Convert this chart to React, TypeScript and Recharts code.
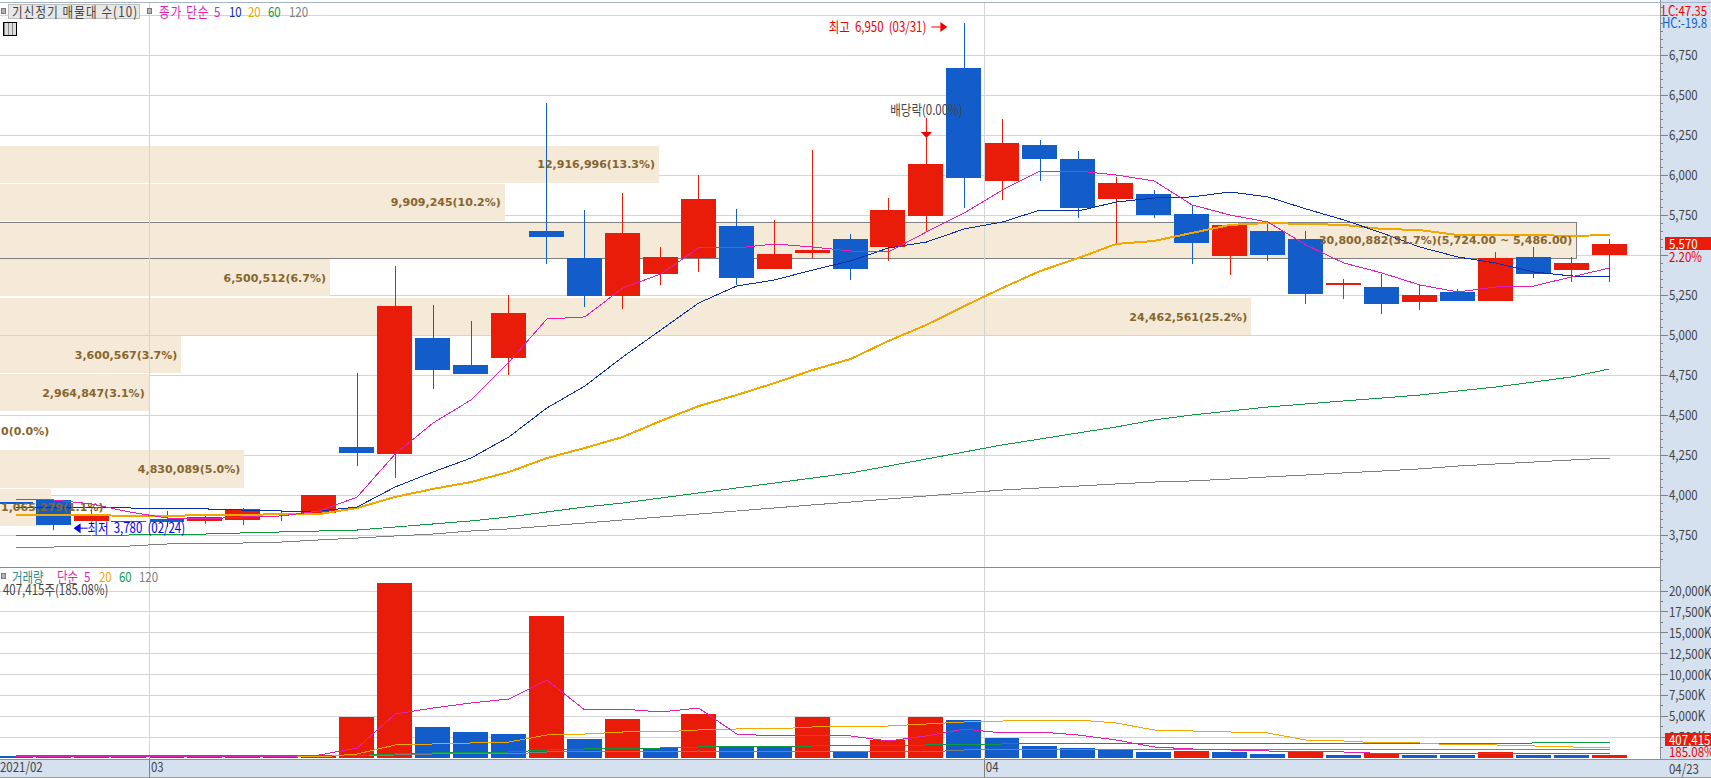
import {
  Bar,
  CartesianGrid,
  Cell,
  ComposedChart,
  Line,
  ReferenceArea,
  ReferenceDot,
  ReferenceLine,
  XAxis,
  YAxis,
} from 'recharts';

// 거래일 (2021/02/23 ~ 04/23)
const dates = [
  '02/23', '02/24', '02/25', '02/26',
  '03/02', '03/03', '03/04', '03/05', '03/08', '03/09', '03/10', '03/11', '03/12', '03/15', '03/16',
  '03/17', '03/18', '03/19', '03/22', '03/23', '03/24', '03/25', '03/26', '03/29', '03/30', '03/31',
  '04/01', '04/02', '04/05', '04/06', '04/07', '04/08', '04/09', '04/12', '04/13', '04/14', '04/15',
  '04/16', '04/19', '04/20', '04/21', '04/22', '04/23',
];
const opens = [
  3955, 3969, 3838, 3838, 3850, 3838, 3844, 3875, 3888, 4300, 4256, 4981, 4813, 4856, 5650, 5481, 5244,
  5381, 5481, 5681, 5413, 5513, 5600, 5550, 5744, 6669, 5963, 6188, 6100, 5850, 5881, 5756, 5494, 5650,
  5600, 5315, 5300, 5206, 5269, 5213, 5488, 5406, 5500,
];
const closes = [
  3945, 3813, 3881, 3831, 3831, 3863, 3913, 3888, 4000, 4263, 5181, 4781, 4756, 5138, 5613, 5244, 5638,
  5488, 5850, 5356, 5506, 5531, 5413, 5781, 6069, 5981, 6200, 6100, 5794, 5950, 5750, 5575, 5688, 5500,
  5256, 5322, 5194, 5250, 5213, 5481, 5381, 5450, 5570,
];
const highs = [
  3955, 3975, 3906, 3838, 3900, 3875, 3919, 3906, 4000, 4763, 5431, 5188, 5088, 5250, 6450, 5781, 5888,
  5550, 6000, 5788, 5719, 6156, 5631, 5856, 6231, 6950, 6350, 6219, 6150, 5988, 5906, 5806, 5688, 5700,
  5650, 5350, 5381, 5319, 5288, 5519, 5550, 5488, 5600,
];
const lows = [
  3945, 3780, 3838, 3825, 3800, 3819, 3813, 3838, 3888, 4181, 4106, 4663, 4756, 4750, 5444, 5175, 5163,
  5313, 5394, 5313, 5413, 5481, 5344, 5463, 5644, 5794, 5844, 5963, 5731, 5569, 5731, 5444, 5375, 5463,
  5194, 5225, 5131, 5156, 5213, 5213, 5356, 5331, 5331,
];
const ma5 = [
  3975, 3969, 3944, 3894, 3856, 3850, 3863, 3869, 3900, 3987, 4256, 4450, 4594, 4831, 5100, 5113, 5294,
  5381, 5544, 5544, 5569, 5550, 5525, 5519, 5644, 5763, 5906, 6025, 6025, 6000, 5963, 5813, 5750, 5706,
  5563, 5450, 5388, 5313, 5269, 5300, 5306, 5363, 5419,
];
const ma10 = [
  3919, 3919, 3919, 3919, 3913, 3913, 3906, 3900, 3900, 3925, 4050, 4144, 4231, 4363, 4544, 4681, 4863,
  5031, 5200, 5306, 5344, 5406, 5463, 5544, 5581, 5663, 5706, 5781, 5775, 5831, 5856, 5863, 5894, 5863,
  5788, 5719, 5638, 5550, 5488, 5450, 5394, 5369, 5363,
];
const ma20 = [
  3875, 3875, 3875, 3869, 3869, 3875, 3875, 3881, 3881, 3919, 3988, 4038, 4081, 4144, 4231, 4294, 4363,
  4463, 4556, 4625, 4700, 4781, 4850, 4963, 5063, 5181, 5294, 5400, 5481, 5569, 5588, 5638, 5688, 5700,
  5694, 5688, 5663, 5656, 5625, 5625, 5625, 5619, 5625,
];
const ma60 = [
  3744, 3744, 3750, 3750, 3756, 3756, 3763, 3769, 3775, 3781, 3800, 3819, 3838, 3863, 3894, 3925, 3950,
  3981, 4013, 4044, 4075, 4106, 4138, 4181, 4225, 4269, 4313, 4350, 4388, 4425, 4469, 4500, 4525, 4550,
  4569, 4588, 4606, 4625, 4650, 4675, 4706, 4738, 4788,
];
const ma120 = [
  3675, 3675, 3678, 3681, 3694, 3700, 3700, 3706, 3719, 3731, 3744, 3756, 3775, 3788, 3806, 3825, 3844,
  3863, 3881, 3900, 3919, 3938, 3956, 3975, 3994, 4013, 4031, 4044, 4056, 4069, 4081, 4088, 4100, 4113,
  4125, 4138, 4150, 4163, 4181, 4194, 4206, 4219, 4231,
];

// 거래량 (K)
const volumes = [
  240, 170, 180, 190, 170, 150, 190, 130, 190, 4910, 20960, 3710, 3110, 2875, 17010, 2275, 4670, 1200,
  5270, 1440, 1320, 4910, 755, 2155, 4910, 4550, 2395, 1440, 1200, 1080, 720, 875, 720, 480, 840, 360,
  575, 360, 360, 720, 360, 370, 407,
];
const volumeUp = [
  0, 1, 0, 1, 0, 1, 1, 0, 1, 1, 1, 0, 0, 0, 1, 0, 1, 0, 1, 0, 0, 1, 0, 1, 1, 0, 0, 0, 0, 0, 0, 1, 0, 0, 1,
  0, 1, 0, 0, 1, 0, 0, 1,
];
const volMa5 = [
  150, 150, 150, 150, 150, 150, 150, 150, 360, 1200, 5270, 5990, 6590, 7070, 9340, 5750, 5870, 5510, 5990,
  2875, 2640, 2755, 2640, 2035, 2640, 3470, 2995, 3115, 2755, 2155, 1320, 1080, 960, 840, 720, 720, 540,
  480, 480, 480, 480, 480, 480,
];
const volMa20 = [
  120, 120, 120, 120, 120, 120, 120, 120, 120, 480, 1560, 1680, 1800, 1915, 2755, 2875, 3115, 3115, 3355,
  3475, 3475, 3715, 3715, 3835, 4075, 4315, 4430, 4550, 4550, 4195, 3355, 3235, 3115, 2995, 2155, 2035,
  1800, 1800, 1560, 1560, 1440, 1320, 1200,
];
const volMa60 = [
  300, 300, 300, 300, 300, 300, 300, 300, 300, 300, 480, 600, 600, 720, 960, 1080, 1080, 1200, 1320, 1320,
  1320, 1440, 1440, 1440, 1560, 1560, 1680, 1680, 1680, 1680, 1680, 1680, 1680, 1680, 1680, 1680, 1680,
  1680, 1680, 1680, 1800, 1800, 1800,
];
const volMa120 = [
  280, 280, 280, 280, 280, 280, 280, 280, 280, 280, 360, 480, 480, 480, 720, 720, 720, 720, 840, 720, 720,
  720, 720, 720, 720, 960, 960, 960, 960, 960, 960, 960, 960, 960, 960, 960, 960, 960, 960, 960, 960, 960,
  960,
];

// 매물대
const profileVolumes = [
  12916996, 9909245, 30800882, 6500512, 24462561, 3600567, 2964847, 0, 4830089, 1065279,
];
const profileTops = [6181, 5945, 5704, 5472, 5231, 4992, 4756, 4519, 4281, 4038];
const profileBottoms = [5952, 5714, 5479, 5241, 4999, 4763, 4525, 4287, 4044, 3808];
const profileLabels = [
  '12,916,996(13.3%)',
  '9,909,245(10.2%)',
  '30,800,882(31.7%)(5,724.00 ~ 5,486.00)',
  '6,500,512(6.7%)',
  '24,462,561(25.2%)',
  '3,600,567(3.7%)',
  '2,964,847(3.1%)',
  '0(0.0%)',
  '4,830,089(5.0%)',
  '1,065,279(1.1%)',
];
// 매물대 가로 길이: x축 범위 전체에 해당하는 거래량
const profileFullScale = 31820000;

const priceTicks = [3750, 4000, 4250, 4500, 4750, 5000, 5250, 5500, 5750, 6000, 6250, 6500, 6750];
const priceGridTicks = [...priceTicks, 7000];
const volumeTicks = [2500, 5000, 7500, 10000, 12500, 15000, 17500, 20000];
const monthTicks = ['02/23', '03/02', '04/01'];
const monthLabels = ['2021/02', '03', '04'];
// 현재가 표시에 가려지는 눈금 글자
const coveredPriceLabels = [5500];

const priceMinorTicks: number[] = [];
for (let v = 3600; v <= 7050; v += 50) priceMinorTicks.push(v);
const volumeMinorTicks: number[] = [];
for (let v = 1250; v <= 21250; v += 1250) volumeMinorTicks.push(v);

const priceRows = dates.map((date, i) => ({
  date,
  open: opens[i],
  close: closes[i],
  high: highs[i],
  low: lows[i],
  ma5: ma5[i],
  ma10: ma10[i],
  ma20: ma20[i],
  ma60: ma60[i],
  ma120: ma120[i],
}));

const volumeRows = dates.map((date, i) => ({
  date,
  volume: volumes[i],
  ma5: volMa5[i],
  ma20: volMa20[i],
  ma60: volMa60[i],
  ma120: volMa120[i],
}));

const RED = '#e91c0a';
const BLUE = '#135dcb';
const PINK = '#e01fb4';
const NAVY = '#0a2ea6';
const ORANGE = '#f0a800';
const GREEN = '#0f9a42';
const GRAY = '#808080';
const GRID = '#d4d4d4';
const AXIS_BG = '#d6e1f0';
const BAND = '#f5e9d8';
const BAND_TEXT = '#86662f';
const TEXT = '#444444';
const FONT = '"Noto Sans CJK KR", sans-serif';
const BAND_FONT = '"DejaVu Sans", sans-serif';
const TEXT_SIZE = 14;
const SQUEEZE = 0.82; // 원본 비트맵 글꼴이 좁아서 가로만 줄임

const WIDTH = 1711;
const PLOT_RIGHT = 1660;
// 봉 간격 37.95px, 첫 봉 중심 15.6px
const axisPadding = { left: -3.375, right: 31.5 };
const priceDomain = [3550, 7075];
const priceMargin = { top: 3, right: 0, bottom: 1, left: 0 };

function NarrowText(props: any) {
  const { x, y, anchor, fill, wordSpacing, children } = props;
  return (
    <text
      transform={`translate(${x} ${y}) scale(${SQUEEZE} 1)`}
      textAnchor={anchor ?? 'start'}
      fontSize={TEXT_SIZE}
      fontFamily={FONT}
      fill={fill}
      style={{ wordSpacing }}
    >
      {children}
    </text>
  );
}

function Candle(props: any) {
  const { x, y, width, height, payload } = props;
  const perUnit = height / (payload.high - payload.low);
  const top = y + (payload.high - Math.max(payload.open, payload.close)) * perUnit;
  const bodyH = Math.max(1, Math.abs(payload.open - payload.close) * perUnit);
  const color = payload.close >= payload.open ? RED : BLUE;
  const cx = Math.round(x + width / 2) + 0.5;
  return (
    <g shapeRendering="crispEdges">
      <line x1={cx} x2={cx} y1={y} y2={y + height} stroke={color} strokeWidth={1} />
      <rect x={x} y={top} width={width} height={bodyH} fill={color} />
    </g>
  );
}

function AxisTick(props: any) {
  const { x, y, payload, majors, suffix, covered } = props;
  const major = majors.includes(payload.value);
  const showText = major && !(covered ?? []).includes(payload.value);
  return (
    <g>
      <line x1={x} x2={x + (major ? 8 : 3)} y1={y} y2={y} stroke={GRAY} shapeRendering="crispEdges" />
      {showText && (
        <NarrowText x={x + 9} y={y + 5} fill={TEXT}>
          {payload.value.toLocaleString('en-US') + suffix}
        </NarrowText>
      )}
    </g>
  );
}

function MonthTick(props: any) {
  const { x, y, payload, index } = props;
  const left = x - 17.97;
  return (
    <g>
      {index > 0 && <line x1={left} x2={left} y1={y} y2={y + 19} stroke={GRAY} shapeRendering="crispEdges" />}
      <NarrowText x={Math.max(0, left + 1.5)} y={y + 14} fill={TEXT}>
        {monthLabels[monthTicks.indexOf(payload.value)]}
      </NarrowText>
    </g>
  );
}

// 월 구분선은 봉 사이 간격 가운데에 놓임
function MonthLine(props: any) {
  const { x1, x2, y1, y2 } = props;
  return <line x1={x1 + 1} x2={x2 + 1} y1={y1} y2={y2} stroke={GRID} shapeRendering="crispEdges" />;
}

function bandWidth(fullWidth: number, volume: number) {
  return (fullWidth * volume) / profileFullScale;
}

function ProfileBand(props: any) {
  const { x, y, width, height, volume, boxed } = props;
  if (volume <= 0) return null;
  return (
    <rect
      x={x}
      y={y}
      width={bandWidth(width, volume)}
      height={height}
      fill={BAND}
      stroke={boxed ? GRAY : 'none'}
      shapeRendering="crispEdges"
    />
  );
}

function ProfileText(props: any) {
  const { x, y, width, height, volume, label } = props;
  const bandPx = bandWidth(width, volume);
  // 막대보다 글자가 길면 왼쪽 끝에서 시작
  const fits = bandPx > label.length * 6.8;
  return (
    <text
      x={fits ? x + bandPx - 4 : 1}
      y={y + height / 2 + 4}
      textAnchor={fits ? 'end' : 'start'}
      fontSize={11}
      fontWeight="bold"
      fontFamily={BAND_FONT}
      fill={BAND_TEXT}
    >
      {label}
    </text>
  );
}

function HighMark(props: any) {
  const { cx, cy } = props;
  const ay = cy + 4;
  return (
    <g>
      <NarrowText x={cx - 38} y={ay + 5} anchor="end" fill="#f00000" wordSpacing={3}>
        최고 6,950 (03/31)
      </NarrowText>
      <line x1={cx - 33} x2={cx - 20} y1={ay} y2={ay} stroke="#f00000" />
      <path d={`M${cx - 24} ${ay - 5}L${cx - 17} ${ay}L${cx - 24} ${ay + 5}Z`} fill="#f00000" />
    </g>
  );
}

function LowMark(props: any) {
  const { cx, cy } = props;
  const ay = cy - 2;
  return (
    <g>
      <path d={`M${cx + 20} ${ay}L${cx + 27} ${ay - 5}L${cx + 27} ${ay + 5}Z`} fill="#0000f0" />
      <line x1={cx + 25} x2={cx + 34} y1={ay} y2={ay} stroke="#0000f0" />
      <NarrowText x={cx + 34} y={ay + 5} fill="#0000f0" wordSpacing={3}>
        최저 3,780 (02/24)
      </NarrowText>
    </g>
  );
}

function ExDividendMark(props: any) {
  const { cx, cy } = props;
  return (
    <g>
      <NarrowText x={cx} y={cy - 23} anchor="middle" fill={TEXT}>
        배당락(0.00%)
      </NarrowText>
      <line x1={cx} x2={cx} y1={cy - 20} y2={cy - 6} stroke="#f00000" />
      <path d={`M${cx - 5.5} ${cy - 6}L${cx + 5.5} ${cy - 6}L${cx} ${cy}Z`} fill="#f00000" />
    </g>
  );
}

function PriceChart() {
  return (
    <ComposedChart
      width={WIDTH}
      height={568}
      data={priceRows}
      margin={priceMargin}
      barCategoryGap={0}
      style={{ position: 'absolute', left: 0, top: 0 }}
    >
      <CartesianGrid vertical={false} stroke={GRID} horizontalValues={priceGridTicks} shapeRendering="crispEdges" />
      <XAxis dataKey="date" hide padding={axisPadding} />
      <YAxis
        orientation="right"
        width={51}
        domain={priceDomain}
        ticks={priceMinorTicks}
        interval={0}
        axisLine={false}
        tickLine={false}
        tickSize={0}
        tickMargin={0}
        allowDataOverflow
        tick={<AxisTick majors={priceTicks} suffix="" covered={coveredPriceLabels} />}
      />
      <ReferenceLine x="03/02" position="start" shape={<MonthLine />} />
      <ReferenceLine x="04/01" position="start" shape={<MonthLine />} />
      {profileVolumes.map((v, i) => (
        <ReferenceArea
          key={profileLabels[i]}
          y1={profileBottoms[i]}
          y2={profileTops[i]}
          ifOverflow="visible"
          shape={<ProfileBand volume={v} boxed={i === 2} />}
        />
      ))}
      <Line dataKey="ma120" stroke={GRAY} strokeWidth={1} dot={false} isAnimationActive={false} shapeRendering="crispEdges" />
      <Line dataKey="ma60" stroke={GREEN} strokeWidth={1} dot={false} isAnimationActive={false} shapeRendering="crispEdges" />
      <Line dataKey="ma20" stroke={ORANGE} strokeWidth={2} dot={false} isAnimationActive={false} shapeRendering="crispEdges" />
      <Line dataKey="ma10" stroke={NAVY} strokeWidth={1} dot={false} isAnimationActive={false} shapeRendering="crispEdges" />
      <Line dataKey="ma5" stroke={PINK} strokeWidth={1} dot={false} isAnimationActive={false} shapeRendering="crispEdges" />
      <Bar
        dataKey={(d: any) => [d.low, d.high]}
        barSize={35}
        shape={<Candle />}
        isAnimationActive={false}
      />
    </ComposedChart>
  );
}

// 글자는 봉과 선 위에 올라가므로 같은 축으로 한 겹 더 그림
function PriceTextLayer() {
  return (
    <ComposedChart
      width={WIDTH}
      height={568}
      data={priceRows}
      margin={priceMargin}
      style={{ position: 'absolute', left: 0, top: 0 }}
    >
      <XAxis dataKey="date" hide padding={axisPadding} scale="band" />
      <YAxis
        orientation="right"
        width={51}
        domain={priceDomain}
        axisLine={false}
        tickLine={false}
        tick={false}
        allowDataOverflow
      />
      {profileVolumes.map((v, i) => (
        <ReferenceArea
          key={profileLabels[i]}
          y1={profileBottoms[i]}
          y2={profileTops[i]}
          ifOverflow="visible"
          shape={<ProfileText volume={v} label={profileLabels[i]} />}
        />
      ))}
      <ReferenceDot x="03/31" y={6950} ifOverflow="visible" shape={<HighMark />} />
      <ReferenceDot x="02/24" y={3780} ifOverflow="visible" shape={<LowMark />} />
      <ReferenceDot x="03/30" y={6231} ifOverflow="visible" shape={<ExDividendMark />} />
    </ComposedChart>
  );
}

function VolumeChart() {
  return (
    <ComposedChart
      width={WIDTH}
      height={210}
      data={volumeRows}
      margin={{ top: 0, right: 0, bottom: 0, left: 0 }}
      barCategoryGap={0}
      style={{ position: 'absolute', left: 0, top: 568 }}
    >
      <CartesianGrid vertical={false} stroke={GRID} horizontalValues={volumeTicks} shapeRendering="crispEdges" />
      <XAxis
        dataKey="date"
        height={20}
        padding={axisPadding}
        ticks={monthTicks}
        interval={0}
        axisLine={false}
        tickLine={false}
        tickSize={0}
        tickMargin={0}
        tick={<MonthTick />}
      />
      <YAxis
        orientation="right"
        width={51}
        domain={[0, 22762]}
        ticks={volumeMinorTicks}
        interval={0}
        axisLine={false}
        tickLine={false}
        tickSize={0}
        tickMargin={0}
        allowDataOverflow
        tick={<AxisTick majors={volumeTicks} suffix="K" />}
      />
      <ReferenceLine x="03/02" position="start" shape={<MonthLine />} />
      <ReferenceLine x="04/01" position="start" shape={<MonthLine />} />
      <Bar dataKey="volume" barSize={35} isAnimationActive={false} shapeRendering="crispEdges">
        {volumeRows.map((row, i) => (
          <Cell key={row.date} fill={volumeUp[i] ? RED : BLUE} />
        ))}
      </Bar>
      <Line dataKey="ma120" stroke={GRAY} strokeWidth={1} dot={false} isAnimationActive={false} shapeRendering="crispEdges" />
      <Line dataKey="ma60" stroke={GREEN} strokeWidth={1} dot={false} isAnimationActive={false} shapeRendering="crispEdges" />
      <Line dataKey="ma20" stroke={ORANGE} strokeWidth={1} dot={false} isAnimationActive={false} shapeRendering="crispEdges" />
      <Line dataKey="ma5" stroke={PINK} strokeWidth={1} dot={false} isAnimationActive={false} shapeRendering="crispEdges" />
    </ComposedChart>
  );
}

function Box(props: any) {
  const { x, y, w, h, bg, style } = props;
  return <div style={{ position: 'absolute', left: x, top: y, width: w, height: h, background: bg, ...style }} />;
}

function Label(props: any) {
  const { x, y, color, spacing, children } = props;
  return (
    <div
      style={{
        position: 'absolute',
        left: x,
        top: y,
        color,
        fontFamily: FONT,
        fontSize: TEXT_SIZE,
        lineHeight: '14px',
        whiteSpace: 'nowrap',
        letterSpacing: spacing,
        transform: `scaleX(${SQUEEZE})`,
        transformOrigin: 'left top',
      }}
    >
      {children}
    </div>
  );
}

const miniSquare = { border: '1px solid #777', boxSizing: 'border-box' as const };

function Overlay() {
  return (
    <>
      <Box x={0} y={2} w={WIDTH} h={1} bg="#a3b3ca" />
      <Box x={0} y={567} w={PLOT_RIGHT} h={1} bg="#8a8a8a" />
      <Box x={0} y={759} w={WIDTH} h={1} bg="#8f8f8f" />
      <Box x={0} y={777} w={WIDTH} h={1} bg="#9a9a9a" />

      <Box x={1} y={8} w={5} h={6} bg="#b5b5b5" style={miniSquare} />
      <Box x={8} y={4} w={132} h={15} bg="#e8e8e8" style={{ border: '1px solid #bdbdbd', boxSizing: 'border-box' }} />
      <Label x={12} y={4} color={TEXT} spacing={1.4}>기신정기 매물대 수(10)</Label>
      <Box x={147} y={8} w={5} h={6} bg="#b5b5b5" style={miniSquare} />
      <Label x={159} y={4} color={PINK} spacing={1.4}>종가 단순</Label>
      <Label x={214} y={4} color={PINK}>5</Label>
      <Label x={229} y={4} color={NAVY}>10</Label>
      <Label x={248} y={4} color={ORANGE}>20</Label>
      <Label x={268} y={4} color={GREEN}>60</Label>
      <Label x={289} y={4} color={GRAY}>120</Label>
      <Box
        x={3}
        y={22}
        w={14}
        h={14}
        style={{
          boxSizing: 'border-box',
          border: '1px solid #000',
          background: 'repeating-linear-gradient(90deg,#888 0 1px,#ddd 1px 4px)',
        }}
      />

      <Box x={1} y={573} w={5} h={6} bg="#b5b5b5" style={miniSquare} />
      <Label x={12} y={569} color="#2e8b8b">거래량</Label>
      <Label x={57} y={569} color={PINK}>단순</Label>
      <Label x={84} y={569} color={PINK}>5</Label>
      <Label x={99} y={569} color={ORANGE}>20</Label>
      <Label x={119} y={569} color={GREEN}>60</Label>
      <Label x={139} y={569} color={GRAY}>120</Label>
      <Label x={3} y={582} color={TEXT}>407,415주(185.08%)</Label>

      <Label x={1662} y={3} color="#f00000">LC:47.35</Label>
      <Label x={1662} y={15} color="#1060d0">HC:-19.8</Label>

      <Box x={1665} y={237} w={46} h={13} bg={RED} />
      <Label x={1669} y={236} color="#fff">5,570</Label>
      <Label x={1669} y={249} color="#f00000">2.20%</Label>
      <Box x={1665} y={733} w={46} h={13} bg={RED} />
      <Label x={1669} y={732} color="#fff">407,415</Label>
      <Label x={1669} y={744} color="#f00000">185.08%</Label>
      <Label x={1669} y={761} color={TEXT}>04/23</Label>
    </>
  );
}

export default function App() {
  return (
    <div style={{ position: 'absolute', left: 0, top: 0, width: WIDTH, height: 778, background: '#fff', overflow: 'hidden' }}>
      <Box x={PLOT_RIGHT} y={0} w={51} h={778} bg={AXIS_BG} style={{ borderLeft: '1px solid #8f8f8f', boxSizing: 'border-box' }} />
      <Box x={0} y={759} w={WIDTH} h={18} bg={AXIS_BG} />
      <PriceChart />
      <VolumeChart />
      <PriceTextLayer />
      <Overlay />
    </div>
  );
}
